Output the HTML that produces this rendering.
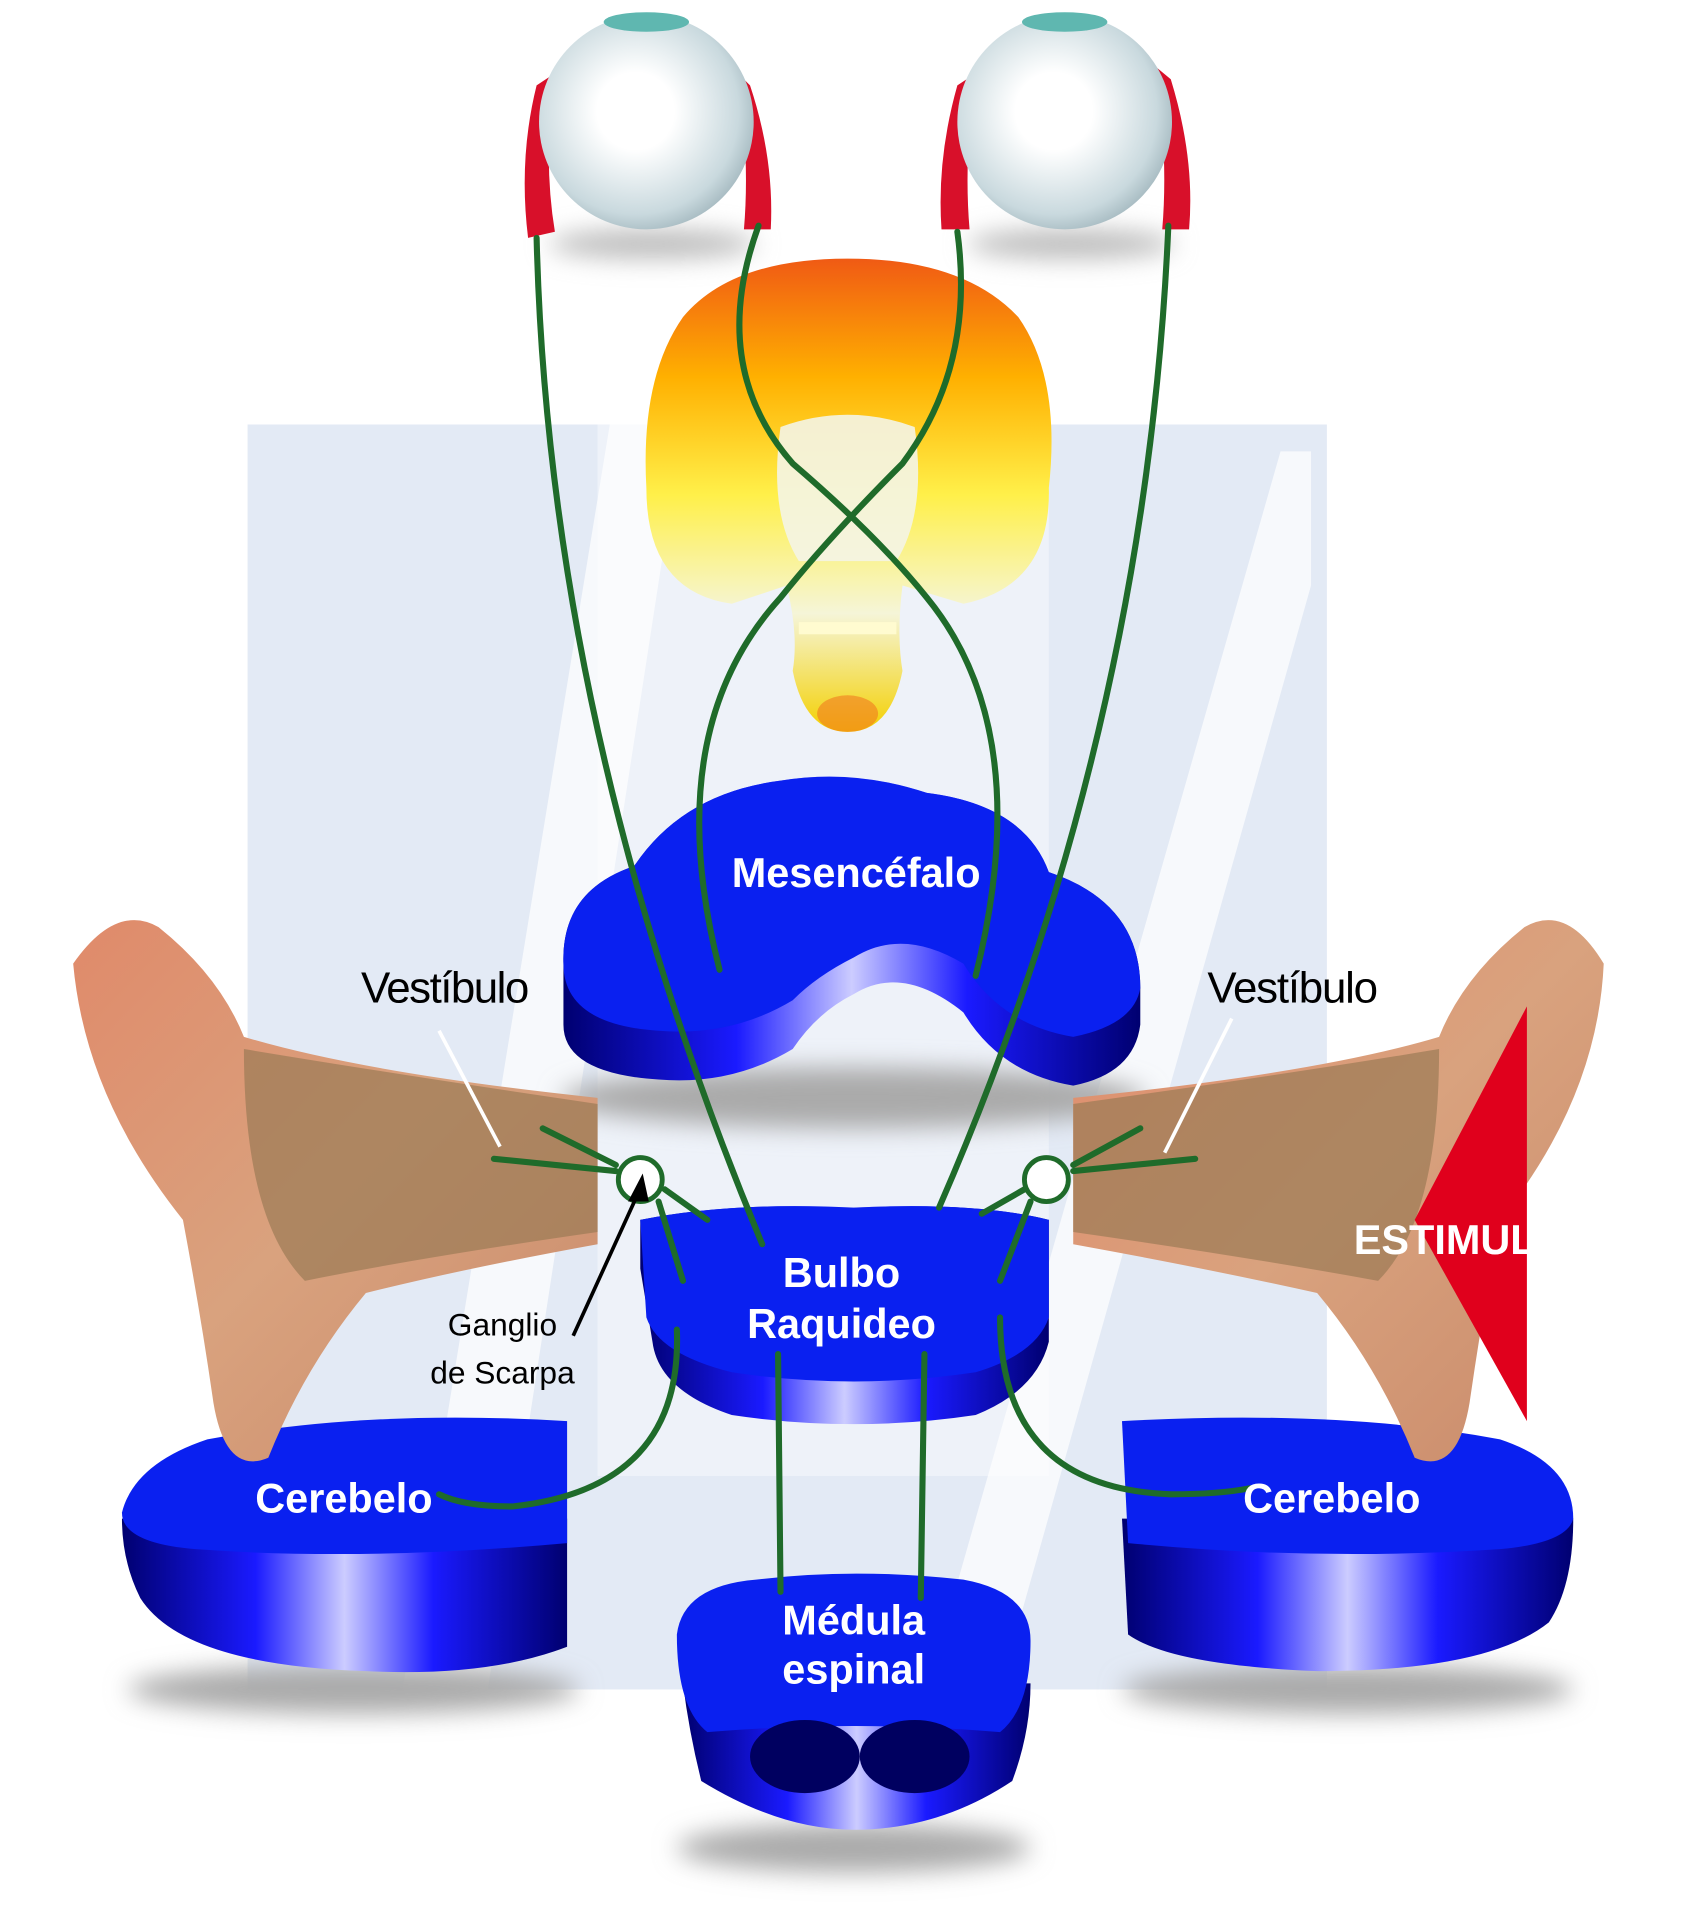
<!DOCTYPE html>
<html><head><meta charset="utf-8">
<style>html,body{margin:0;padding:0;background:#fff}svg{display:block}</style>
</head><body>
<svg width="1683" height="1920" viewBox="0 0 1380 1574" preserveAspectRatio="none" xmlns="http://www.w3.org/2000/svg" font-family="Liberation Sans, sans-serif">
<defs>
<radialGradient id="eye" cx="0.45" cy="0.45" r="0.6"><stop offset="0.3" stop-color="#ffffff"/><stop offset="0.8" stop-color="#c9d9de"/><stop offset="1" stop-color="#9fb4bb"/></radialGradient>
<linearGradient id="brain" x1="0" y1="0" x2="0" y2="1"><stop offset="0" stop-color="#f05a14"/><stop offset="0.25" stop-color="#ffb000"/><stop offset="0.5" stop-color="#fff04a"/><stop offset="0.75" stop-color="#f5f5d8"/><stop offset="1" stop-color="#f4d000"/></linearGradient>
<linearGradient id="side" x1="0" y1="0" x2="1" y2="0"><stop offset="0" stop-color="#000070"/><stop offset="0.3" stop-color="#1a1aff"/><stop offset="0.5" stop-color="#ccccff"/><stop offset="0.7" stop-color="#1a1aff"/><stop offset="1" stop-color="#000070"/></linearGradient>
<linearGradient id="ear" x1="0" y1="0" x2="1" y2="1"><stop offset="0" stop-color="#e08a6a"/><stop offset="0.5" stop-color="#d9a27e"/><stop offset="1" stop-color="#c98a6a"/></linearGradient>
<filter id="sh" x="-50%" y="-300%" width="200%" height="700%"><feGaussianBlur stdDeviation="10"/></filter>
</defs>
<!-- background W -->
<rect x="203" y="348" width="885" height="1037" fill="#e3eaf5"/>
<polygon points="490,348 860,348 860,1210 490,1210" fill="#eef2f9"/>
<polygon points="330,1385 500,348 560,348 400,1385" fill="#fff" opacity="0.7"/>
<polygon points="760,1385 1050,370 1075,370 1075,480 820,1385" fill="#fff" opacity="0.7"/>
<!-- eyes -->
<ellipse cx="535" cy="200" rx="85" ry="12" fill="#bbb" filter="url(#sh)"/>
<ellipse cx="878" cy="200" rx="85" ry="12" fill="#bbb" filter="url(#sh)"/>
<path d="M440,70 Q425,130 433,195 L455,190 Q445,130 455,60Z" fill="#d8102a"/>
<path d="M615,70 Q635,130 632,188 L610,188 Q615,130 605,60Z" fill="#d8102a"/>
<path d="M785,70 Q768,130 772,188 L795,188 Q790,130 800,60Z" fill="#d8102a"/>
<path d="M960,65 Q980,130 975,188 L953,188 Q958,130 948,55Z" fill="#d8102a"/>
<circle cx="530" cy="100" r="88" fill="url(#eye)"/>
<circle cx="873" cy="100" r="88" fill="url(#eye)"/>
<ellipse cx="530" cy="18" rx="35" ry="8" fill="#5fb7b0"/>
<ellipse cx="873" cy="18" rx="35" ry="8" fill="#5fb7b0"/>
<!-- brain -->
<path d="M695,212 Q790,212 835,260 Q870,310 860,400 Q862,480 790,495 L740,480 Q735,520 740,550 Q730,600 695,600 Q660,600 650,550 Q655,520 645,480 L600,495 Q530,485 530,400 Q525,310 560,260 Q600,212 695,212Z" fill="url(#brain)"/>
<path d="M640,350 Q695,330 750,350 Q760,420 735,460 L655,460 Q630,420 640,350Z" fill="#f4f4e6" opacity="0.9"/>
<path d="M655,510 L735,510 L735,520 L655,520Z" fill="#fffbd0"/>
<ellipse cx="695" cy="585" rx="25" ry="15" fill="#f07a20" opacity="0.6"/>
<!-- shadows -->
<ellipse cx="700" cy="900" rx="240" ry="25" fill="#aaa" filter="url(#sh)"/>
<ellipse cx="290" cy="1385" rx="185" ry="20" fill="#aaa" filter="url(#sh)"/>
<ellipse cx="1105" cy="1385" rx="185" ry="20" fill="#aaa" filter="url(#sh)"/>
<ellipse cx="700" cy="1515" rx="145" ry="20" fill="#aaa" filter="url(#sh)"/>
<!-- Mesencefalo -->
<path d="M462,790 Q460,730 520,710 Q560,650 640,640 Q700,630 760,650 Q840,660 860,715 Q935,740 935,810 L935,840 Q930,880 880,890 Q820,880 790,830 Q740,790 700,815 Q670,830 650,860 Q600,890 540,885 Q462,880 462,840Z" fill="url(#side)"/>
<path d="M462,790 Q460,730 520,710 Q560,650 640,640 Q700,630 760,650 Q840,660 860,715 Q935,740 935,810 Q930,840 880,850 Q820,840 790,790 Q740,760 700,785 Q670,800 650,820 Q600,850 540,845 Q462,840 462,790Z" fill="#0a20f0"/>
<!-- Bulbo -->
<path d="M525,1040 L525,1000 Q600,985 700,990 Q800,985 860,1000 L860,1100 Q850,1140 800,1160 Q700,1175 600,1160 Q540,1140 535,1100Z" fill="url(#side)"/>
<path d="M525,1000 Q600,985 700,990 Q800,985 860,1000 L860,1080 Q850,1110 800,1125 Q700,1140 600,1125 Q540,1110 530,1080Z" fill="#0a20f0"/>
<!-- Cerebelo left -->
<path d="M100,1245 L465,1245 L465,1350 Q400,1375 300,1370 Q150,1365 115,1310 Q100,1280 100,1245Z" fill="url(#side)"/>
<path d="M100,1240 Q110,1200 170,1180 Q300,1155 465,1165 L465,1265 Q300,1280 160,1270 Q100,1265 100,1240Z" fill="#0a20f0"/>
<!-- Cerebelo right -->
<path d="M920,1245 L1290,1245 Q1290,1300 1270,1330 Q1220,1370 1080,1370 Q960,1365 925,1340Z" fill="url(#side)"/>
<path d="M920,1165 Q1100,1155 1230,1180 Q1290,1200 1290,1245 Q1285,1265 1230,1270 Q1080,1280 925,1265Z" fill="#0a20f0"/>
<!-- Medula -->
<path d="M560,1380 Q565,1420 575,1460 Q640,1500 700,1500 Q770,1500 830,1460 Q845,1420 845,1380Z" fill="url(#side)"/>
<path d="M555,1340 Q560,1300 620,1295 Q700,1285 790,1295 Q845,1305 845,1345 Q845,1400 820,1420 Q700,1410 580,1420 Q555,1400 555,1340Z" fill="#0a20f0"/>
<ellipse cx="660" cy="1440" rx="45" ry="30" fill="#000060"/>
<ellipse cx="750" cy="1440" rx="45" ry="30" fill="#000060"/>
<!-- ears -->
<path d="M60,790 Q95,740 130,760 Q180,800 200,850 Q300,880 490,900 L490,1020 Q380,1040 300,1060 Q250,1120 220,1195 Q185,1210 175,1150 Q165,1080 150,1000 Q70,900 60,790Z" fill="url(#ear)"/>
<path d="M200,860 Q320,880 490,905 L490,1010 Q350,1030 250,1050 Q200,1000 200,860Z" fill="#9b7a55" opacity="0.7"/>
<path d="M1315,790 Q1285,740 1250,760 Q1200,800 1180,850 Q1080,880 880,900 L880,1020 Q990,1040 1080,1060 Q1130,1120 1160,1195 Q1195,1210 1205,1150 Q1215,1080 1230,1000 Q1310,900 1315,790Z" fill="url(#ear)"/>
<path d="M1180,860 Q1060,880 880,905 L880,1010 Q1020,1030 1130,1050 Q1180,1000 1180,860Z" fill="#9b7a55" opacity="0.7"/>
<polygon points="1252,825 1160,1000 1252,1165" fill="#e0001c"/>
<!-- green nerves -->
<g fill="none" stroke="#1f6b2a" stroke-width="5" stroke-linecap="round">
<path d="M440,195 Q450,600 625,1020"/>
<path d="M958,185 Q940,600 770,990"/>
<path d="M622,185 Q580,300 650,380 Q720,440 760,490 Q850,600 800,800"/>
<path d="M785,190 Q800,300 740,380 Q680,440 640,490 Q540,600 590,795"/>
<path d="M405,950 L505,960 M445,925 L505,955 M545,975 L580,1000 M540,985 L560,1050"/>
<path d="M980,950 L880,960 M935,925 L880,955 M840,975 L805,995 M845,985 L820,1050"/>
<path d="M555,1090 Q560,1220 420,1235 Q380,1235 360,1225"/>
<path d="M820,1080 Q820,1220 960,1225 Q1000,1225 1025,1220"/>
<path d="M638,1110 L640,1305 M758,1110 L755,1310"/>
</g>
<circle cx="525" cy="967" r="18" fill="#fff" stroke="#1f6b2a" stroke-width="4"/>
<circle cx="858" cy="967" r="18" fill="#fff" stroke="#1f6b2a" stroke-width="4"/>
<!-- pointers -->
<g stroke="#fff" stroke-width="3"><line x1="360" y1="845" x2="410" y2="940"/><line x1="1010" y1="835" x2="955" y2="945"/></g>
<line x1="470" y1="1095" x2="527" y2="970" stroke="#000" stroke-width="3"/>
<polygon points="527,962 515,985 532,985" fill="#000"/>
<!-- labels -->
<g font-weight="bold" fill="#fff" text-anchor="middle" font-size="34">
<text x="702" y="727">Mesencéfalo</text>
<text x="690" y="1055">Bulbo</text>
<text x="690" y="1097">Raquideo</text>
<text x="282" y="1240">Cerebelo</text>
<text x="1092" y="1240">Cerebelo</text>
<text x="700" y="1340">Médula</text>
<text x="700" y="1380">espinal</text>
<text x="1110" y="1028" text-anchor="start">ESTIMULO</text>
</g>
<rect x="1256" y="990" width="130" height="50" fill="#fff"/>
<g fill="#000" font-size="36">
<text x="296" y="822" textLength="138">Vestíbulo</text>
<text x="990" y="822" textLength="140">Vestíbulo</text>
</g>
<g fill="#000" font-size="26" text-anchor="middle">
<text x="412" y="1095">Ganglio</text>
<text x="412" y="1134">de Scarpa</text>
</g>
</svg>
</body></html>
